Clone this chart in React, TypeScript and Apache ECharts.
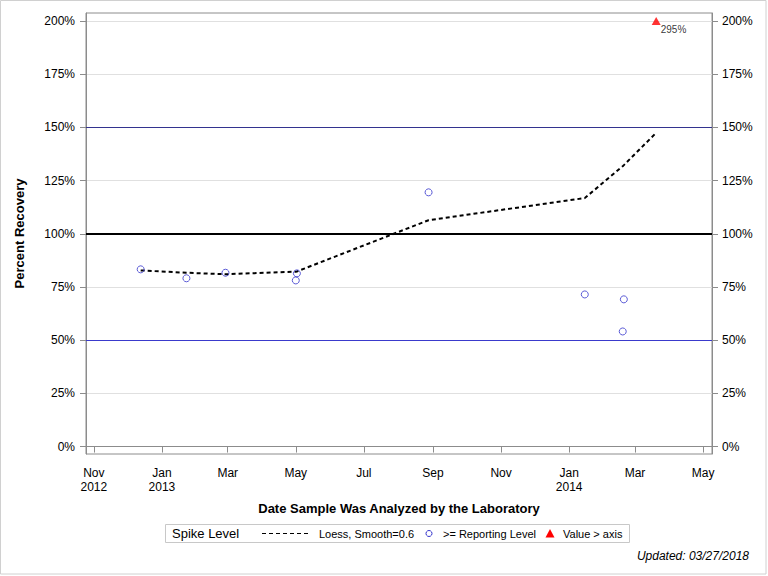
import React, { useEffect, useRef } from "react";
import * as echarts from "echarts";

// ---- data ----
const sampleDates = ["2012-12-13", "2013-01-23", "2013-02-27", "2013-05-02", "2013-05-01", "2013-08-28", "2014-01-15", "2014-02-19", "2014-02-18"];
const sampleRecovery = [83.3, 79.1, 81.7, 81.4, 78.1, 119.5, 71.5, 69.2, 54.1];

const overDates = ["2014-03-20"];
const overValues = [295];
const axisMaxValue = 200;

const loessDates = ["2012-12-13", "2013-01-23", "2013-02-27", "2013-05-01", "2013-05-02", "2013-08-28", "2014-01-15", "2014-02-18", "2014-02-19", "2014-03-20"];
const loessValues = [82.8, 81.7, 81.0, 82.2, 82.3, 106.4, 116.8, 131.8, 132.3, 147.5];

const xTickDates = ["2012-11-01", "2013-01-01", "2013-03-01", "2013-05-01", "2013-07-01", "2013-09-01", "2013-11-01", "2014-01-01", "2014-03-01", "2014-05-01"];
const xTickLabels = ["Nov\n2012", "Jan\n2013", "Mar", "May", "Jul", "Sep", "Nov", "Jan\n2014", "Mar", "May"];
const yTicks = [0, 25, 50, 75, 100, 125, 150, 175, 200];

const refLines = [150, 100, 50];

const t = (s: string) => {
  const [y, m, d] = s.split("-").map(Number);
  return Date.UTC(y, m - 1, d);
};

const FONT = "'Liberation Sans', Arial, sans-serif";

export default function App() {
  const ref = useRef<HTMLDivElement>(null);
  useEffect(() => {
    if (!ref.current) return;
    const chart = echarts.init(ref.current, null, { renderer: "svg" });
    const xTickVals = xTickDates.map(t);
    const labelMap: Record<number, string> = {};
    xTickVals.forEach((v, i) => (labelMap[v] = xTickLabels[i]));

    const yAxisCommon = {
      type: "value" as const,
      min: -3.5,
      max: 203.8,
      axisLine: { show: true, lineStyle: { color: "#8c8c8c", width: 1 } },
      axisTick: { show: true, inside: false, length: 6, lineStyle: { color: "#8c8c8c" }, customValues: yTicks },
    };
    const yLabelCommon = {
      customValues: yTicks,
      formatter: (v: number) => `${v}%`,
      color: "#000",
      fontFamily: FONT,
      fontSize: 12,
    };

    chart.setOption({
      animation: false,
      backgroundColor: "#fff",
      grid: { left: 86, right: 56, top: 13, bottom: 122, show: true, borderColor: "#8c8c8c", borderWidth: 1 },
      xAxis: {
        type: "value",
        min: Date.UTC(2012, 9, 25),
        max: Date.UTC(2014, 4, 9),
        axisLine: { show: true, lineStyle: { color: "#8c8c8c" } },
        axisTick: { show: true, inside: false, length: 6, lineStyle: { color: "#8c8c8c" }, customValues: xTickVals },
        splitLine: { show: false },
        axisLabel: {
          customValues: xTickVals,
          formatter: (v: number) => labelMap[v] ?? "",
          color: "#000",
          fontFamily: FONT,
          fontSize: 12,
          lineHeight: 14,
          margin: 12,
          hideOverlap: false,
        },
        name: "Date Sample Was Analyzed by the Laboratory",
        nameLocation: "middle",
        nameGap: 48,
        nameTextStyle: { fontFamily: FONT, fontSize: 13, fontWeight: "bold", color: "#000" },
      },
      yAxis: [
        {
          ...yAxisCommon,
          position: "left",
          axisLabel: { ...yLabelCommon, margin: 11 },
          splitLine: { show: true, lineStyle: { color: "#e0e0e0", width: 1 } },
          name: "Percent Recovery",
          nameLocation: "middle",
          nameGap: 60,
          nameRotate: 90,
          nameTextStyle: { fontFamily: FONT, fontSize: 13, fontWeight: "bold", color: "#000" },
        },
        {
          ...yAxisCommon,
          position: "right",
          axisLabel: { ...yLabelCommon, margin: 10 },
          splitLine: { show: false },
        },
      ],
      series: [
        {
          type: "line",
          name: "ref",
          data: [],
          silent: true,
          markLine: {
            silent: true,
            symbol: "none",
            label: { show: false },
            animation: false,
            data: [
              { yAxis: refLines[0], lineStyle: { color: "#33338f", width: 1, type: "solid" } },
              { yAxis: refLines[1], lineStyle: { color: "#000", width: 2, type: "solid" } },
              { yAxis: refLines[2], lineStyle: { color: "#3a3acc", width: 1, type: "solid" } },
            ],
          },
        },
        {
          type: "line",
          name: "Loess",
          data: loessDates.map((d, i) => [t(d), loessValues[i]]),
          showSymbol: false,
          symbol: "none",
          lineStyle: { color: "#000", width: 2, type: [4, 3] },
          z: 3,
        },
        {
          type: "scatter",
          name: "Reporting",
          data: sampleDates.map((d, i) => [t(d), sampleRecovery[i]]),
          symbol: "circle",
          symbolSize: 7,
          itemStyle: { color: "rgba(0,0,0,0)", borderColor: "#3333cc", borderWidth: 1 },
          z: 4,
        },
        {
          type: "scatter",
          name: "Over",
          data: overDates.map((d, i) => ({ value: [t(d), Math.min(overValues[i], axisMaxValue)], raw: overValues[i] })),
          symbol: "triangle",
          symbolSize: [9, 8],
          itemStyle: { color: "#ff0000" },
          label: {
            show: true,
            position: "right",
            offset: [-5, 8],
            formatter: (p: any) => `${p.data.raw}%`,
            fontFamily: FONT,
            fontSize: 10,
            color: "#000",
          },
          z: 5,
        },
      ],
      graphic: [
        { type: "rect", shape: { x: 0.5, y: 0.5, width: 765.5, height: 573.5 }, style: { fill: "none", stroke: "#d0d0d0", lineWidth: 1 }, silent: true },
        { type: "rect", shape: { x: 165.5, y: 524.5, width: 464, height: 18 }, style: { fill: "#fff", stroke: "#c8c8c8", lineWidth: 1 } },
        { type: "text", x: 172, y: 533.5, style: { text: "Spike Level", font: `13px ${FONT}`, fill: "#000", verticalAlign: "middle" } },
        { type: "line", shape: { x1: 262, y1: 533.5, x2: 310, y2: 533.5 }, style: { stroke: "#000", lineWidth: 1, lineDash: [4, 3] } },
        { type: "text", x: 319, y: 533.5, style: { text: "Loess, Smooth=0.6", font: `11px ${FONT}`, fill: "#000", verticalAlign: "middle" } },
        { type: "circle", shape: { cx: 429, cy: 533.5, r: 3 }, style: { fill: "none", stroke: "#3333cc", lineWidth: 1 } },
        { type: "text", x: 443, y: 533.5, style: { text: ">= Reporting Level", font: `11px ${FONT}`, fill: "#000", verticalAlign: "middle" } },
        { type: "polygon", shape: { points: [[550, 529], [554.5, 537.5], [545.5, 537.5]] }, style: { fill: "#ff0000" } },
        { type: "text", x: 563, y: 533.5, style: { text: "Value > axis", font: `11px ${FONT}`, fill: "#000", verticalAlign: "middle" } },
        { type: "text", x: 749, y: 556, style: { text: "Updated: 03/27/2018", font: `italic 12px ${FONT}`, fill: "#000", align: "right", verticalAlign: "middle" } },
      ],
    });
    return () => chart.dispose();
  }, []);
  return <div ref={ref} style={{ position: "fixed", left: 0, top: 0, width: 768, height: 576 }} />;
}
